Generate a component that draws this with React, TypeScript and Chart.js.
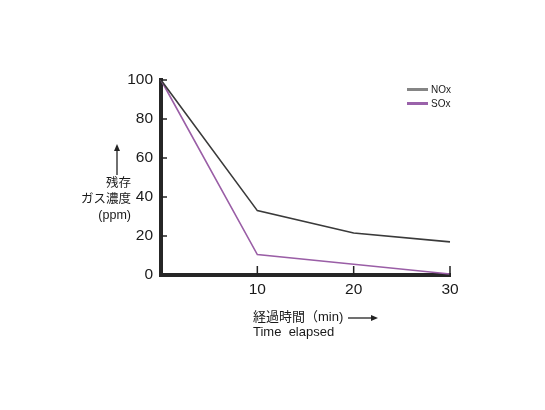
import React, { useEffect, useRef } from "react";
import { Chart, registerables } from "chart.js";

Chart.register(...registerables);

const xValues = [0, 10, 20, 30];
const noxValues = [100, 33, 21.5, 17];
const soxValues = [100, 10.5, 5.5, 0.5];
const xTicks = [10, 20, 30];
const yTicks = [0, 20, 40, 60, 80, 100];
const seriesNames = ["NOx", "SOx"];
const seriesColors = ["#3a3a3a", "#9a5ea6"];
const legendColors = ["#858585", "#9a62aa"];
const yTitleLines = ["残存", "ガス濃度", "(ppm)"];
const xTitleLines = ["経過時間（min)", "Time  elapsed"];

const FONT = '"Liberation Sans", Arial, "Noto Sans CJK JP", sans-serif';

const innerTicks = {
  id: "innerTicks",
  afterDraw(chart: any) {
    const ctx = chart.ctx;
    const xs = chart.scales.x;
    const ys = chart.scales.y;
    const area = chart.chartArea;
    ctx.save();
    ctx.strokeStyle = "#222";
    ctx.lineWidth = 1.5;
    xTicks.forEach((v) => {
      const px = xs.getPixelForValue(v);
      ctx.beginPath();
      ctx.moveTo(px, area.bottom);
      ctx.lineTo(px, area.bottom - 9);
      ctx.stroke();
    });
    yTicks.forEach((v) => {
      if (v === 0) return;
      const py = ys.getPixelForValue(v);
      ctx.beginPath();
      ctx.moveTo(area.left, py);
      ctx.lineTo(area.left + 6, py);
      ctx.stroke();
    });
    // y title arrow
    ctx.lineWidth = 1.3;
    ctx.beginPath();
    ctx.moveTo(117, 175);
    ctx.lineTo(117, 147);
    ctx.stroke();
    ctx.fillStyle = "#222";
    ctx.beginPath();
    ctx.moveTo(117, 144);
    ctx.lineTo(114, 151);
    ctx.lineTo(120, 151);
    ctx.closePath();
    ctx.fill();
    // x title arrow
    ctx.beginPath();
    ctx.moveTo(348, 318);
    ctx.lineTo(374, 318);
    ctx.stroke();
    ctx.beginPath();
    ctx.moveTo(378, 318);
    ctx.lineTo(371, 315);
    ctx.lineTo(371, 321);
    ctx.closePath();
    ctx.fill();
    ctx.restore();
  },
};

export default function App() {
  const ref = useRef<HTMLCanvasElement | null>(null);

  useEffect(() => {
    if (!ref.current) return;
    const chart = new Chart(ref.current, {
      type: "line",
      data: {
        datasets: [noxValues, soxValues].map((vals, i) => ({
          label: seriesNames[i],
          data: xValues.map((x, j) => ({ x, y: vals[j] })),
          borderColor: seriesColors[i],
          backgroundColor: seriesColors[i],
          borderWidth: 1.6,
          pointRadius: 0,
          tension: 0,
          clip: false as any,
        })),
      },
      options: {
        responsive: false,
        animation: false,
        layout: { padding: { left: 0, right: 95, top: 80, bottom: 0 } },
        plugins: {
          legend: { display: false },
          tooltip: { enabled: false },
        },
        scales: {
          x: {
            type: "linear",
            min: 0,
            max: 30,
            afterBuildTicks: (s: any) => {
              s.ticks = xTicks.map((v) => ({ value: v }));
            },
            afterFit: (s: any) => {
              s.height = 135;
            },
            grid: { display: false, drawTicks: false },
            border: { display: true, width: 4, color: "#262626" },
            ticks: {
              padding: 5,
              color: "#1a1a1a",
              font: { family: FONT, size: 15.5 },
            },
          },
          y: {
            type: "linear",
            min: 0,
            max: 100,
            afterBuildTicks: (s: any) => {
              s.ticks = yTicks.map((v) => ({ value: v }));
            },
            afterFit: (s: any) => {
              s.width = 161;
            },
            grid: { display: false, drawTicks: false },
            border: { display: true, width: 4, color: "#262626" },
            ticks: {
              padding: 8,
              color: "#1a1a1a",
              font: { family: FONT, size: 15.5 },
            },
          },
        },
      },
      plugins: [innerTicks],
    });
    return () => chart.destroy();
  }, []);

  return (
    <div
      style={{
        position: "absolute",
        left: 0,
        top: 0,
        width: 545,
        height: 410,
        background: "#fff",
        fontFamily: FONT,
        color: "#1a1a1a",
      }}
    >
      <canvas ref={ref} width={545} height={410} style={{ position: "absolute", left: 0, top: 0 }} />
      <div
        style={{
          position: "absolute",
          left: 0,
          top: 175,
          width: 131,
          textAlign: "right",
          fontSize: 12.5,
          lineHeight: "16px",
        }}
      >
        {yTitleLines.map((t, i) => (
          <div key={i}>{t}</div>
        ))}
      </div>
      <div
        style={{
          position: "absolute",
          left: 253,
          top: 309,
          fontSize: 13,
          lineHeight: "15px",
          whiteSpace: "pre",
        }}
      >
        {xTitleLines.map((t, i) => (
          <div key={i}>{t}</div>
        ))}
      </div>
      {seriesNames.map((n, i) => (
        <div
          key={n}
          style={{
            position: "absolute",
            left: 407,
            top: 83 + i * 14,
            height: 12,
            display: "flex",
            alignItems: "center",
            fontSize: 10,
          }}
        >
          <span
            style={{
              display: "inline-block",
              width: 21,
              height: 3,
              background: legendColors[i],
              marginRight: 3,
            }}
          />
          <span>{n}</span>
        </div>
      ))}
    </div>
  );
}
